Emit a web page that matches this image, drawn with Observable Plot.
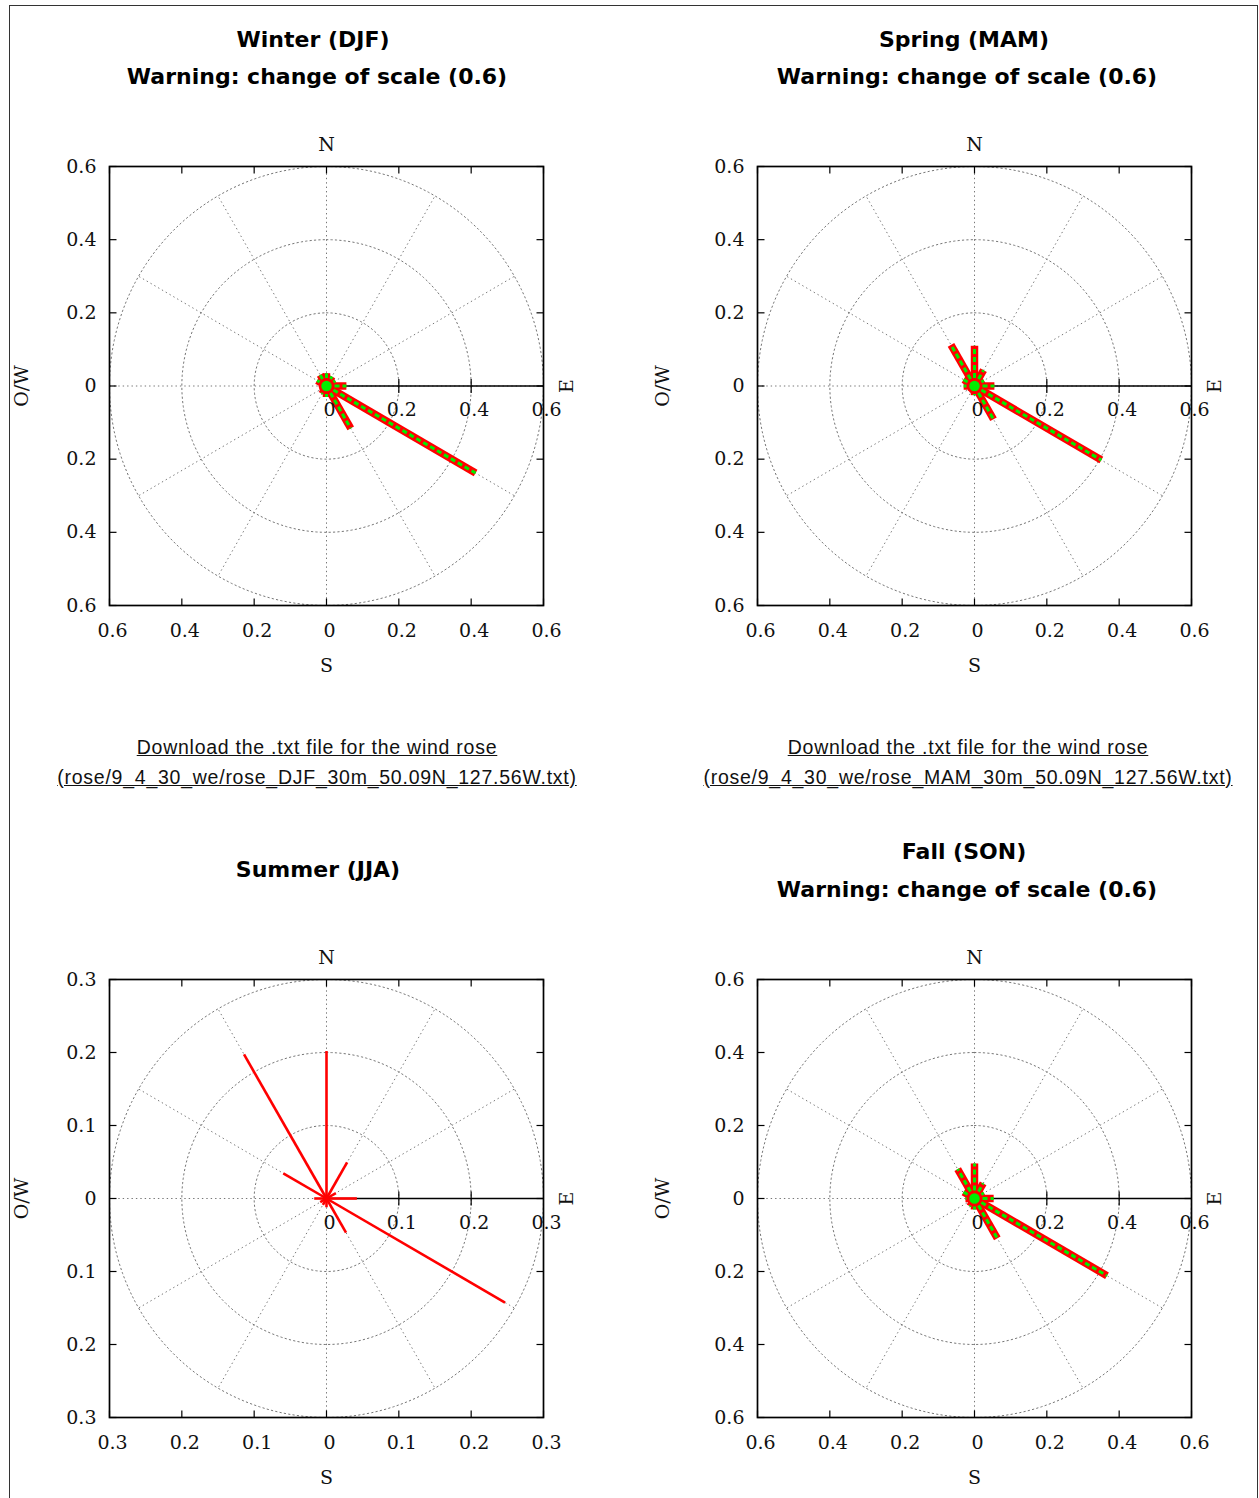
<!DOCTYPE html>
<html>
<head>
<meta charset="utf-8">
<script src="https://cdn.jsdelivr.net/npm/d3@7"></script>
<script src="https://cdn.jsdelivr.net/npm/@observablehq/plot@0.6"></script>
<style>
html, body { margin: 0; padding: 0; background: #fff; }
#page { position: relative; width: 1259px; height: 1498px; overflow: hidden; background: #fff; }
#border { position: absolute; left: 9px; top: 5px; width: 1249px; height: 1530px; border: 1.6px solid #333; box-sizing: border-box; }
#clip { position: absolute; left: 10.5px; top: 6px; width: 1246px; height: 1492px; overflow: hidden; }
#inner { position: absolute; left: -10.5px; top: -6px; width: 1259px; height: 1498px; }
.title { position: absolute; font-family: "DejaVu Sans", sans-serif; font-weight: bold; font-size: 22px; line-height: 26px; color: #000; white-space: nowrap; transform: translateX(-50%); }
.dl { position: absolute; font-family: "Liberation Sans", Arial, sans-serif; font-size: 19.5px; line-height: 24px; color: #111; text-decoration: underline; letter-spacing: 0.75px; white-space: nowrap; transform: translateX(-50%); }
.rose { position: absolute; }
.rose svg { max-width: none; background: transparent; }
</style>
</head>
<body>
<div id="page">
  <div id="border"></div>
  <div id="clip"><div id="inner"></div></div>
</div>
<script>
// ---------- data ----------
const directions = [0, 30, 60, 90, 120, 150, 180, 210, 240, 270, 300, 330];
const winterFreq = [0.035, 0.030, 0.028, 0.055, 0.476, 0.134, 0.030, 0.025, 0.020, 0.020, 0.030, 0.035];
const springFreq = [0.110, 0.050, 0.030, 0.055, 0.405, 0.105, 0.025, 0.020, 0.020, 0.030, 0.035, 0.130];
const summerFreq = [0.202, 0.057, 0.015, 0.042, 0.285, 0.054, 0.012, 0.010, 0.010, 0.017, 0.069, 0.228];
const fallFreq   = [0.096, 0.048, 0.030, 0.053, 0.423, 0.126, 0.030, 0.025, 0.020, 0.025, 0.035, 0.093];

const ticksWide   = [-0.6, -0.4, -0.2, 0, 0.2, 0.4, 0.6];
const ticksNarrow = [-0.3, -0.2, -0.1, 0, 0.1, 0.2, 0.3];
const ringsWide   = [0.2, 0.4, 0.6];
const ringsNarrow = [0.1, 0.2, 0.3];
const spokeAngles = [0, 30, 60, 90, 120, 150, 180, 210, 240, 270, 300, 330];

const panels = [
  { season: "DJF", title: "Winter (DJF)", warning: "Warning: change of scale (0.6)", freq: winterFreq, ticks: ticksWide, rings: ringsWide, styled: true,
    file: "(rose/9_4_30_we/rose_DJF_30m_50.09N_127.56W.txt)" },
  { season: "MAM", title: "Spring (MAM)", warning: "Warning: change of scale (0.6)", freq: springFreq, ticks: ticksWide, rings: ringsWide, styled: true,
    file: "(rose/9_4_30_we/rose_MAM_30m_50.09N_127.56W.txt)" },
  { season: "JJA", title: "Summer (JJA)", warning: null, freq: summerFreq, ticks: ticksNarrow, rings: ringsNarrow, styled: false, file: null },
  { season: "SON", title: "Fall (SON)", warning: "Warning: change of scale (0.6)", freq: fallFreq, ticks: ticksWide, rings: ringsWide, styled: true, file: null }
];

// ---------- layout (page coordinates) ----------
const layout = {
  DJF: { fx: 109, fy: 166, fw: 434, fh: 439, owDx: -88, titleX: 313, titleY: 40, warnX: 317, warnY: 77, dlX: 317, dlY: 747 },
  MAM: { fx: 757, fy: 166, fw: 434, fh: 439, owDx: -95, titleX: 964, titleY: 40, warnX: 967, warnY: 77, dlX: 968, dlY: 747 },
  JJA: { fx: 109, fy: 979, fw: 434, fh: 438, owDx: -88, titleX: 318, titleY: 870 },
  SON: { fx: 757, fy: 979, fw: 434, fh: 438, owDx: -95, titleX: 964, titleY: 852, warnX: 967, warnY: 890 }
};

const inner = document.getElementById("inner");
const serif = "DejaVu Serif, serif";
const gridColor = "#777";
const gridDash = "1.4,3";
const fmt = d => String(Math.abs(d));
const rad = a => a * Math.PI / 180;

function addText(cls, txt, cx, cy) {
  const el = document.createElement("div");
  el.className = cls;
  el.textContent = txt;
  el.style.left = cx + "px";
  el.style.top = (cy - (cls === "title" ? 13 : 12)) + "px";
  inner.appendChild(el);
}

for (const p of panels) {
  const L = layout[p.season];
  const D = p.ticks[p.ticks.length - 1];
  const mL = 112, mR = 60, mT = 45, mB = 75;
  const tlx = (2 * D / L.fw) * 7;   // 7px tick length in data units
  const tly = (2 * D / L.fh) * 7;

  // grid ring points
  const ringPts = [];
  for (const r of p.rings) for (let a = 0; a <= 360; a += 2) ringPts.push({ r, x: r * Math.sin(rad(a)), y: r * Math.cos(rad(a)) });

  const rays = directions.map((dir, i) => ({ dir, f: p.freq[i] }));
  const rx = d => d.f * Math.sin(rad(d.dir));
  const ry = d => d.f * Math.cos(rad(d.dir));
  const innerTicks = p.ticks.filter(t => t > 0 && t < D);
  const innerLabels = p.ticks.filter(t => t >= 0);
  const txt = { fontFamily: serif, fontSize: 19, fill: "#111" };

  const rayMarks = p.styled ? [
    Plot.link(rays, { x1: 0, y1: 0, x2: rx, y2: ry, stroke: "#ff0000", strokeWidth: 7.5, strokeLinecap: "butt" }),
    Plot.link(rays, { x1: 0, y1: 0, x2: rx, y2: ry, stroke: "#00ee00", strokeWidth: 3, strokeDasharray: "5,3", strokeLinecap: "butt" }),
    Plot.dot([0], { x: 0, y: 0, r: 6, fill: "#00ee00", stroke: "#ff0000", strokeWidth: 1.5 })
  ] : [
    Plot.link(rays, { x1: 0, y1: 0, x2: rx, y2: ry, stroke: "#ff0000", strokeWidth: 2.6, strokeLinecap: "butt" })
  ];

  const chart = Plot.plot({
    width: mL + L.fw + mR,
    height: mT + L.fh + mB,
    marginLeft: mL, marginRight: mR, marginTop: mT, marginBottom: mB,
    x: { domain: [-D, D], axis: null },
    y: { domain: [-D, D], axis: null },
    style: { background: "transparent", overflow: "visible" },
    marks: [
      // polar grid
      Plot.line(ringPts, { x: "x", y: "y", z: "r", stroke: gridColor, strokeWidth: 1, strokeDasharray: gridDash }),
      Plot.link(spokeAngles, { x1: 0, y1: 0, x2: a => D * Math.sin(rad(a)), y2: a => D * Math.cos(rad(a)), stroke: gridColor, strokeWidth: 1, strokeDasharray: gridDash }),
      // east axis line with ticks
      Plot.ruleY([0], { x1: 0, x2: D, stroke: "#000", strokeWidth: 1.3 }),
      Plot.link(innerTicks, { x1: d => d, x2: d => d, y1: -tly, y2: tly, stroke: "#000", strokeWidth: 1.2 }),
      // frame + inward ticks
      Plot.frame({ stroke: "#000", strokeWidth: 1.7 }),
      Plot.link(p.ticks, { x1: d => d, x2: d => d, y1: -D, y2: -D + tly, stroke: "#000", strokeWidth: 1.2 }),
      Plot.link(p.ticks, { x1: d => d, x2: d => d, y1: D, y2: D - tly, stroke: "#000", strokeWidth: 1.2 }),
      Plot.link(p.ticks, { y1: d => d, y2: d => d, x1: -D, x2: -D + tlx, stroke: "#000", strokeWidth: 1.2 }),
      Plot.link(p.ticks, { y1: d => d, y2: d => d, x1: D, x2: D - tlx, stroke: "#000", strokeWidth: 1.2 }),
      // rays
      ...rayMarks,
      // tick labels
      Plot.text(p.ticks, { x: -D, y: d => d, text: fmt, dx: -13, textAnchor: "end", ...txt }),
      Plot.text(p.ticks, { x: d => d, y: -D, text: fmt, dx: 3, dy: 25, ...txt }),
      Plot.text(innerLabels, { x: d => d, y: 0, text: fmt, dx: 3, dy: 24, ...txt }),
      // compass labels
      Plot.text(["N"], { x: 0, y: D, text: d => d, dy: -22, ...txt }),
      Plot.text(["S"], { x: 0, y: -D, text: d => d, dy: 60, ...txt }),
      Plot.text(["E"], { x: D, y: 0, text: d => d, dx: 23, rotate: -90, ...txt }),
      Plot.text(["O/W"], { x: -D, y: 0, text: d => d, dx: L.owDx, rotate: -90, ...txt })
    ]
  });

  const wrap = document.createElement("div");
  wrap.className = "rose";
  wrap.style.left = (L.fx - mL) + "px";
  wrap.style.top = (L.fy - mT) + "px";
  wrap.appendChild(chart);
  inner.appendChild(wrap);

  addText("title", p.title, L.titleX, L.titleY);
  if (p.warning) addText("title", p.warning, L.warnX, L.warnY);
  if (p.file) {
    addText("dl", "Download the .txt file for the wind rose", L.dlX, L.dlY);
    addText("dl", p.file, L.dlX, L.dlY + 30);
  }
}
</script>
</body>
</html>
